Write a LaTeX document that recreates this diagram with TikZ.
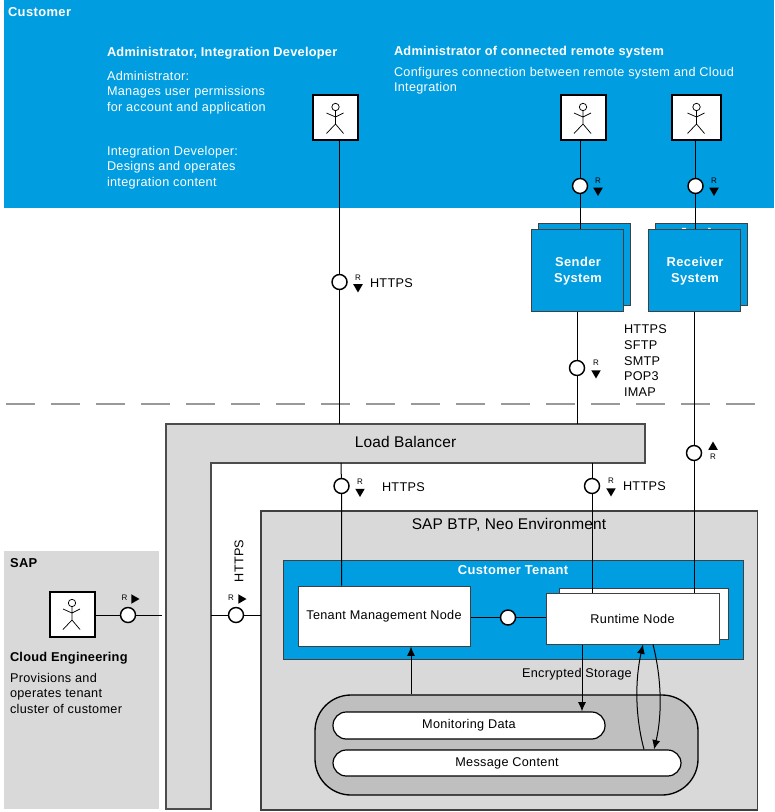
\documentclass[tikz,border=0pt]{standalone}
\usepackage{fontspec}
\setmainfont{Liberation Sans}
\usetikzlibrary{arrows.meta,shapes.geometric}
\definecolor{sapblue}{HTML}{009DE0}
\definecolor{lightgr}{HTML}{D9D9D9}
\definecolor{midgr}{HTML}{BFBFBF}
\definecolor{edgegr}{HTML}{404040}
\newfontfamily\bodyface[LetterSpace=2.5]{Liberation Sans}
\newfontfamily\boldface[LetterSpace=3,BoldFont={Liberation Sans Bold}]{Liberation Sans Bold}
\newfontfamily\headface[LetterSpace=2]{Liberation Sans Bold}
\newfontfamily\bigface[LetterSpace=1]{Liberation Sans}
\newcommand{\bodyfont}{\bodyface\fontsize{9.5}{11.7}\selectfont}
\newcommand{\smallbold}{\boldface\fontsize{9.7}{12}\selectfont}
\newcommand{\headfont}{\headface\fontsize{9.6}{11.7}\selectfont}
\newcommand{\bigfont}{\bigface\fontsize{11.6}{13}\selectfont}
\tikzset{
  x=0.75pt,y=-0.75pt,
  txt/.style={font=\bodyfont,inner sep=0pt,outer sep=0pt,text=black},
  wtxt/.style={font=\bodyfont,inner sep=0pt,outer sep=0pt,text=white},
  wbold/.style={font=\smallbold,inner sep=0pt,outer sep=0pt,text=white,align=center},
  lefttxt/.style={txt,anchor=west,align=left},
  leftw/.style={wtxt,anchor=west,align=left},
  actorbox/.style={draw=black,fill=white,line width=1.5pt,minimum width=45*0.75pt,minimum height=45*0.75pt,inner sep=0pt},
  ball/.style={circle,draw=black,fill=white,line width=1.1pt,minimum size=15*0.75pt,inner sep=0pt},
  wire/.style={draw=black,line width=0.75pt},
  flow/.style={wire,-{Latex[length=7pt,width=6pt]}},
  sysbox/.style={draw=edgegr,fill=sapblue,line width=0.75pt,inner sep=0pt},
  whitebox/.style={draw=edgegr,fill=white,line width=0.75pt,inner sep=0pt},
  pillbox/.style={draw=black,fill=white,line width=0.9pt,inner sep=0pt,font=\bodyfont},
  reqr/.style={font=\fontsize{6}{6}\selectfont,inner sep=0pt},
  tri/.style={regular polygon,regular polygon sides=3,fill=black,inner sep=0pt,minimum size=11*0.75pt,shape border rotate=#1},
  pics/stick/.style={code={
    \draw[black,line width=0.55pt] (0,-11) circle[radius=3.7];
    \draw[black,line width=0.55pt] (0,-7.3) -- (0,6) (-9,-5) -- (0,-1) -- (8,-5) (-9,15.5) -- (0,6) -- (8,15.5);
  }}
}
\begin{document}
\begin{tikzpicture}
\useasboundingbox (0,0) rectangle (774,812);
% regions
\fill[sapblue] (4,0) rectangle (774,208);
\draw[black!40,line width=1.4pt,dash pattern=on 21.5pt off 12.25pt] (6,404) -- (760,404);
\fill[lightgr] (4,551) rectangle (159,809);
\draw[black!70,fill=lightgr,line width=0.8pt] (166,809) -- (166,424) -- (645,424) -- (645,463) -- (211,463) -- (211,809) -- cycle;
\draw[edgegr,fill=lightgr,line width=0.8pt] (261,810) -- (261,511) -- (757.5,511) -- (757.5,810) -- cycle;
\node[draw=edgegr,fill=sapblue,line width=0.75pt,inner sep=0pt,minimum width=460*0.75pt,minimum height=99*0.75pt] (tenant) at (513,609.5) {};
\node[draw=black,fill=midgr,line width=1pt,rounded corners=27pt,minimum width=383*0.75pt,minimum height=100*0.75pt,inner sep=0pt] (store) at (506.5,745) {};
% anchors on the load balancer and regions
\coordinate (lbT1) at (339,424);
\coordinate (lbT2) at (577,424);
\coordinate (lbB1) at (341,463);
\coordinate (lbB2) at (592,463);
\coordinate (lbL) at (162,615);
\coordinate (lbR) at (211,615);
\coordinate (neoL) at (261,615);
% text of the regions
\node[wbold,anchor=west] (tcust) at (8,12.5) {Customer};
\node[leftw,font=\headfont] (tadm) at (107,53) {Administrator, Integration Developer};
\node[leftw,anchor=north west] (tadm1) at (107,71) {Administrator:\\Manages user permissions\\for account and application};
\node[leftw,anchor=north west] (tadm2) at (107,146) {Integration Developer:\\Designs and operates\\integration content};
\node[leftw,font=\headfont] (trem) at (394,52) {Administrator of connected remote system};
\node[leftw,anchor=north west] (trem1) at (394,67) {Configures connection between remote system and Cloud\\Integration};
\node[lefttxt,font=\smallbold] (tsap) at (10,563) {SAP};
\node[lefttxt,font=\headfont] (tce) at (10,658) {Cloud Engineering};
\node[lefttxt,anchor=north west] (tce1) at (10,673) {Provisions and\\operates tenant\\cluster of customer};
\node[txt,font=\bigfont] (tlb) at (405.5,442) {Load Balancer};
\node[txt,font=\bigfont] (tneo) at (509,524.5) {SAP BTP, Neo Environment};
\node[wbold] (tten) at (513,570.5) {Customer Tenant};
% actors
\node[actorbox] (a1) at (335.5,118) {};
\node[actorbox] (a2) at (583,118) {};
\node[actorbox,minimum width=49*0.75pt] (a3) at (696.5,118) {};
\node[actorbox] (a4) at (72,614) {};
\pic at (a1) {stick};
\pic at (a2) {stick};
\pic at (a3) {stick};
\pic at (a4) {stick};
% systems
\node[sysbox,minimum width=92*0.75pt,minimum height=82*0.75pt] (sb) at (584.5,265) {};
\node[sysbox,minimum width=92*0.75pt,minimum height=82*0.75pt] (rb) at (701,265) {};
\fill[white] (682,228) rectangle (686,230) (708,228) rectangle (710.5,230);
\node[sysbox,minimum width=92*0.75pt,minimum height=82*0.75pt] (sf) at (577,271) {};
\node[sysbox,minimum width=92*0.75pt,minimum height=82*0.75pt] (rf) at (694,271) {};
\node[wbold] (tsf) at (578,271) {Sender\\System};
\node[wbold] (trf) at (695,271) {Receiver\\System};
% nodes
\node[whitebox,font=\bodyfont,minimum width=172*0.75pt,minimum height=60*0.75pt] (tmn) at (384,616) {Tenant Management Node};
\node[whitebox,minimum width=169*0.75pt,minimum height=51*0.75pt] (rtb) at (643.5,613.5) {};
\node[whitebox,font=\bodyfont,minimum width=173*0.75pt,minimum height=51*0.75pt] (rt) at (632.5,618.5) {Runtime Node\hspace{21pt}};
\node[pillbox,rounded corners=10pt,minimum width=272*0.75pt,minimum height=27*0.75pt] (mon) at (469,725.5) {\raisebox{-0.6pt}{Monitoring Data}};
\node[pillbox,rounded corners=10pt,minimum width=348*0.75pt,minimum height=26*0.75pt] (msg) at (507,763) {Message Content};
% interface balls
\node[ball] (c1) at (339.5,282) {};
\node[ball] (c2) at (580,186) {};
\node[ball] (c3) at (695.5,186) {};
\node[ball] (c4) at (577,368) {};
\node[ball] (c5) at (341.5,486) {};
\node[ball] (c6) at (592,486) {};
\node[ball] (c7) at (694,453) {};
\node[ball] (c8) at (128,615) {};
\node[ball] (c9) at (236,615) {};
\node[ball] (c10) at (508,617.5) {};
% connectors
\draw[wire] (c1 |- a1.south) -- (c1) -- (c1 |- lbT1);
\draw[wire] (c2 |- a2.south) -- (c2) -- (c2 |- sf.north);
\draw[wire] (c3 |- a3.south) -- (c3) -- (c3 |- rf.north);
\draw[wire] (c4 |- sf.south) -- (c4) -- (lbT2);
\draw[wire] (lbB1) -- (c5) -- (c5 |- tmn.north);
\draw[wire] (lbB2) -- (c6) -- (c6 |- rt.north);
\draw[wire] (c7 |- rf.south) -- (c7) -- (c7 |- rt.north);
\draw[wire] (a4.east |- c8) -- (c8) -- (lbL);
\draw[wire] (lbR) -- (c9) -- (neoL);
\draw[wire] (tmn.east |- c10) -- (c10) -- (rt.west |- c10);
\coordinate (fa) at (411,646);
\coordinate (fb) at (582,644);
\draw[flow] (fa |- store.north) -- (fa |- tmn.south);
\draw[flow] (fb |- rt.south) -- (fb |- mon.north);
\coordinate (l1) at (644,750);
\coordinate (l2) at (643,644.5);
\coordinate (r1) at (653,644.5);
\coordinate (r2) at (654,750);
\draw[flow] (l1 |- msg.north) .. controls (635,716) and (635,680) .. (l2 |- rt.south);
\draw[flow] (r1 |- rt.south) .. controls (662,680) and (662,716) .. (r2 |- msg.north);
% request markers
\foreach \nm/\rx/\ry/\tx/\ty/\rot in {m1/358/277.5/358/287/180,m2/598/181/598/190.5/180,m3/714/181/714/190.5/180,m4/596/363/596/373/180,m5/360/482/360/491.5/180,m6/611/481/611/491/180}{
  \node[reqr,text=black] (\nm r) at (\rx,\ry) {R};
  \node[tri=\rot] (\nm t) at (\tx,\ty) {};
}
\node[reqr] (m7r) at (713,456.5) {R};
\node[tri=0] (m7t) at (713,447) {};
\node[reqr] (m8r) at (124.5,598) {R};
\node[tri=-90] (m8t) at (134,599) {};
\node[reqr] (m9r) at (231,598) {R};
\node[tri=-90] (m9t) at (241,599) {};
% protocol labels
\node[lefttxt] (h1) at (370,283) {HTTPS};
\node[lefttxt,anchor=north west] (h2) at (624,325) {HTTPS\\SFTP\\SMTP\\POP3\\IMAP};
\node[lefttxt] (h3) at (382,487) {HTTPS};
\node[lefttxt] (h4) at (623,486) {HTTPS};
\node[txt,rotate=90] (h5) at (239,561) {HTTPS};
\node[txt,anchor=west] (enc) at (522,674.5) {Encrypted Storage};
\end{tikzpicture}
\end{document}
